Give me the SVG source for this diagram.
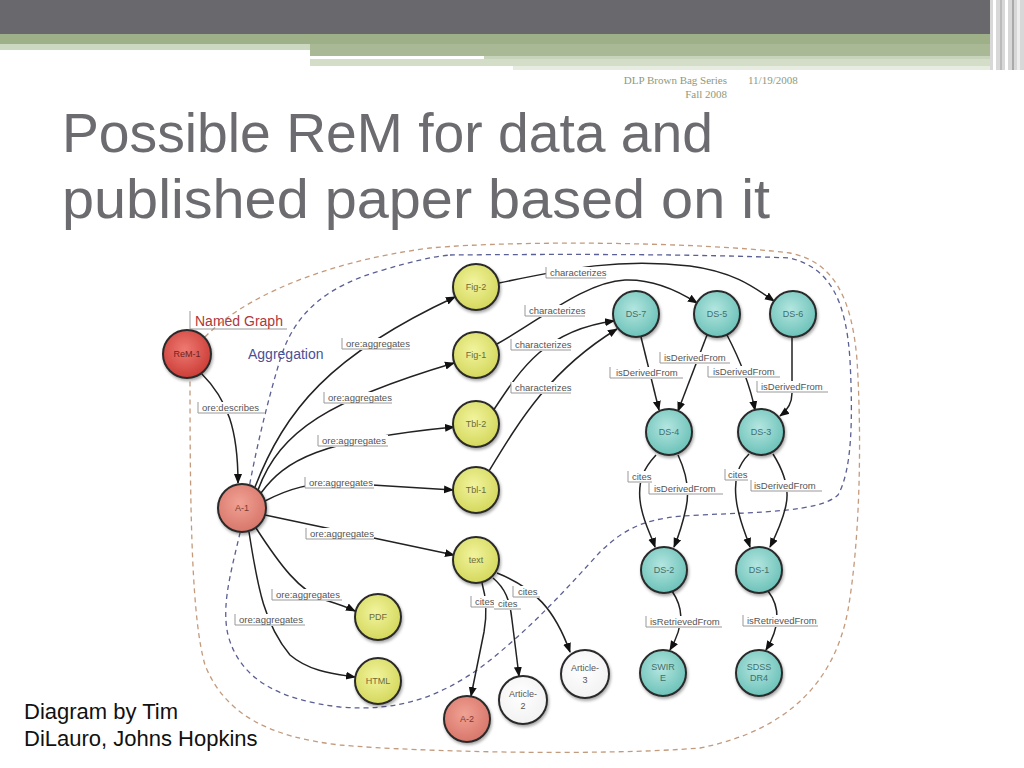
<svg xmlns="http://www.w3.org/2000/svg" width="1024" height="768" viewBox="0 0 1024 768">
<defs>
<style>
.edge{fill:none;stroke:#222;stroke-width:1.5;marker-end:url(#ah)}
.plain{fill:none;stroke:#222;stroke-width:1.5}
.lbl rect{fill:#fff}
.lbl path{fill:none;stroke:#999;stroke-width:1}
.lbl text{font-family:"Liberation Sans",Arial,sans-serif;font-size:9.5px;fill:#555}
.node circle{stroke:#2a2a2a;stroke-width:2;filter:url(#sh)}
.node text{font-family:"Liberation Sans",Arial,sans-serif;font-size:9px;text-anchor:middle}
.y circle{fill:url(#gy)} .y text{fill:#6b6b3a}
.t circle{fill:url(#gt)} .t text{fill:#3f6f6a}
.r circle{fill:url(#gr)} .r text{fill:#6e2220}
.s circle{fill:url(#gs)} .s text{fill:#7a3a32}
.w circle{fill:url(#gw)} .w text{fill:#555}
.ng{fill:none;stroke:#c49a7c;stroke-width:1.3;stroke-dasharray:5 4}
.ag{fill:none;stroke:#5a5f94;stroke-width:1.3;stroke-dasharray:5 4}
</style>
<marker id="ah" viewBox="0 0 10 10" refX="9" refY="5" markerWidth="10" markerHeight="10" markerUnits="userSpaceOnUse" orient="auto"><path d="M0,1 L10,5 L0,9 z" fill="#111"/></marker>
<radialGradient id="gy" cx="0.45" cy="0.4" r="0.6"><stop offset="0" stop-color="#f2f49e"/><stop offset="1" stop-color="#d4d85c"/></radialGradient>
<radialGradient id="gt" cx="0.45" cy="0.4" r="0.6"><stop offset="0" stop-color="#b4e6e0"/><stop offset="1" stop-color="#6cc2b9"/></radialGradient>
<radialGradient id="gr" cx="0.45" cy="0.4" r="0.6"><stop offset="0" stop-color="#ee7a72"/><stop offset="1" stop-color="#cc3e38"/></radialGradient>
<radialGradient id="gs" cx="0.45" cy="0.4" r="0.6"><stop offset="0" stop-color="#f0a294"/><stop offset="1" stop-color="#d8766a"/></radialGradient>
<radialGradient id="gw" cx="0.45" cy="0.4" r="0.6"><stop offset="0" stop-color="#ffffff"/><stop offset="1" stop-color="#f2f2f2"/></radialGradient>
<filter id="sh" x="-30%" y="-30%" width="160%" height="160%"><feDropShadow dx="1" dy="2" stdDeviation="1.5" flood-color="#000" flood-opacity="0.35"/></filter>
</defs>
<rect width="1024" height="768" fill="#fff"/>
<g id="header">
<rect x="0" y="0" width="1024" height="34" fill="#69686d"/>
<rect x="0" y="34" width="1024" height="10" fill="#9db087"/>
<rect x="0" y="44" width="310" height="6" fill="#cdd8c2"/>
<rect x="310" y="44" width="714" height="12" fill="#a9b996"/>
<rect x="310" y="56" width="174" height="3" fill="#fff"/>
<rect x="484" y="56" width="540" height="3" fill="#c8d3bb"/>
<rect x="310" y="59" width="714" height="7" fill="#d3ddc8"/>
<rect x="421" y="66" width="92" height="4" fill="#fff"/>
<rect x="513" y="66" width="511" height="4" fill="#e6ece0"/>
<rect x="990" y="0" width="34" height="70" fill="#d8d8d8"/>
<rect x="993" y="0" width="3" height="70" fill="#fff"/>
<rect x="1000" y="0" width="2" height="70" fill="#bbb"/>
<rect x="1005" y="0" width="3" height="70" fill="#fff"/>
<rect x="1012" y="0" width="2" height="70" fill="#aaa"/>
<rect x="1017" y="0" width="3" height="70" fill="#eee"/>
<text x="727" y="84" text-anchor="end" font-family="Liberation Serif,serif" font-size="11" fill="#8c9a7c">DLP Brown Bag Series</text>
<text x="727" y="98" text-anchor="end" font-family="Liberation Serif,serif" font-size="11" fill="#8c9a7c">Fall 2008</text>
<text x="748" y="84" font-family="Liberation Serif,serif" font-size="11" fill="#8c9a7c">11/19/2008</text>
<text x="62" y="152" font-family="Liberation Sans,Arial,sans-serif" font-size="55" fill="#6b6b70" textLength="651" lengthAdjust="spacingAndGlyphs">Possible ReM for data and</text>
<text x="62" y="218" font-family="Liberation Sans,Arial,sans-serif" font-size="55" fill="#6b6b70" textLength="708" lengthAdjust="spacingAndGlyphs">published paper based on it</text>
<text x="24" y="719" font-family="Liberation Sans,Arial,sans-serif" font-size="22" fill="#111">Diagram by Tim</text>
<text x="24" y="746" font-family="Liberation Sans,Arial,sans-serif" font-size="22" fill="#111">DiLauro, Johns Hopkins</text>
</g>
<g id="boundaries">
<path class="ng" d="M205 337 C 240 300, 320 262, 430 248 C 520 240, 700 242, 790 253 C 835 262, 852 300, 857 360 C 862 440, 860 540, 848 610 C 835 680, 790 730, 700 748 C 600 756, 420 752, 340 745 C 270 737, 225 715, 205 665 C 192 620, 190 520, 190 380"/>
<path class="ag" d="M450 255 C 560 254, 700 254, 790 258 C 830 268, 846 300, 850 360 C 853 420, 852 470, 838 495 C 820 512, 760 512, 700 515 C 650 517, 628 525, 600 552 C 570 585, 530 630, 480 668 C 440 696, 400 712, 340 707 C 280 700, 240 680, 228 635 C 220 600, 235 560, 245 510 C 252 470, 262 420, 280 360 C 295 310, 330 285, 383 270 C 410 262, 430 257, 450 255"/>
</g>
<g id="connectors">
<path class="edge" d="M201 373 C 228 400, 238 430, 238 483"/>
<path class="edge" d="M255 487 C 285 410, 330 355, 455 297"/>
<path class="edge" d="M258 490 C 280 430, 330 400, 454 363"/>
<path class="edge" d="M261 493 C 285 460, 320 440, 454 427"/>
<path class="edge" d="M265 501 C 290 488, 310 483, 340 483 L 453 490"/>
<path class="edge" d="M265 515 L 454 555"/>
<path class="edge" d="M256 528 C 280 565, 300 592, 325 600 C 338 604, 347 607, 355 611"/>
<path class="edge" d="M249 532 C 258 590, 265 625, 290 655 C 310 672, 335 674, 355 677"/>
<path class="edge" d="M499 283 C 570 268, 620 258, 690 266 C 735 272, 755 288, 774 301"/>
<path class="edge" d="M497 344 C 540 320, 585 282, 625 280 C 655 279, 680 292, 697 303"/>
<path class="edge" d="M493 411 C 520 370, 545 330, 614 321"/>
<path class="edge" d="M489 471 C 520 420, 550 370, 617 329"/>
<path class="edge" d="M641 337 L 659 410"/>
<path class="edge" d="M707 335 L 678 411"/>
<path class="edge" d="M727 335 C 740 360, 750 385, 755 410"/>
<path class="edge" d="M792 337 L 792 393 C 792 403, 788 410, 780 416"/>
<path class="edge" d="M656 455 C 644 468, 638 480, 640 500 C 642 520, 650 532, 655 547"/>
<path class="edge" d="M678 455 C 686 472, 690 490, 686 508 C 683 522, 679 535, 674 547"/>
<path class="edge" d="M749 454 C 738 465, 734 478, 736 498 C 738 518, 745 532, 750 547"/>
<path class="edge" d="M773 454 C 783 470, 790 487, 786 505 C 783 520, 777 533, 770 547"/>
<path class="edge" d="M672 591 C 682 606, 686 622, 670 650"/>
<path class="edge" d="M768 591 C 778 604, 783 622, 766 650"/>
<path class="edge" d="M482 583 C 487 600, 487 615, 484 632 L 471 696"/>
<path class="edge" d="M493 578 C 505 588, 510 600, 512 620 L 519 676"/>
<path class="edge" d="M497 573 C 535 588, 555 610, 570 652"/>
</g>
<g id="labels">
<g class="lbl"><path d="M190 311 V329 H287"/><text x="195" y="326" style="font-size:14px;fill:#b0373a">Named Graph</text></g>
<text x="248" y="359" font-family="Liberation Sans,Arial,sans-serif" font-size="14" fill="#4a4f96">Aggregation</text>
<g class="lbl"><rect x="198" y="402" width="67" height="12"/><path d="M198 402 V413 H265"/><text x="202" y="411">ore:describes</text></g>
<g class="lbl"><rect x="342" y="338" width="68" height="12"/><path d="M342 338 V349 H410"/><text x="346" y="347">ore:aggregates</text></g>
<g class="lbl"><rect x="324" y="392" width="68" height="12"/><path d="M324 392 V403 H392"/><text x="328" y="401">ore:aggregates</text></g>
<g class="lbl"><rect x="318" y="435" width="70" height="12"/><path d="M318 435 V446 H388"/><text x="322" y="444">ore:aggregates</text></g>
<g class="lbl"><rect x="305" y="477" width="69" height="12"/><path d="M305 477 V488 H374"/><text x="309" y="486">ore:aggregates</text></g>
<g class="lbl"><rect x="306" y="528" width="68" height="12"/><path d="M306 528 V539 H374"/><text x="310" y="537">ore:aggregates</text></g>
<g class="lbl"><rect x="272" y="589" width="70" height="12"/><path d="M272 589 V600 H342"/><text x="276" y="598">ore:aggregates</text></g>
<g class="lbl"><rect x="235" y="614" width="70" height="12"/><path d="M235 614 V625 H305"/><text x="239" y="623">ore:aggregates</text></g>
<g class="lbl"><rect x="546" y="267" width="60" height="12"/><path d="M546 267 V278 H606"/><text x="550" y="276">characterizes</text></g>
<g class="lbl"><rect x="525" y="305" width="60" height="12"/><path d="M525 305 V316 H585"/><text x="529" y="314">characterizes</text></g>
<g class="lbl"><rect x="511" y="339" width="60" height="12"/><path d="M511 339 V350 H571"/><text x="515" y="348">characterizes</text></g>
<g class="lbl"><rect x="511" y="382" width="60" height="12"/><path d="M511 382 V393 H571"/><text x="515" y="391">characterizes</text></g>
<g class="lbl"><rect x="660" y="352" width="70" height="12"/><path d="M660 352 V363 H730"/><text x="664" y="361">isDerivedFrom</text></g>
<g class="lbl"><rect x="610" y="367" width="73" height="12"/><path d="M610 367 V378 H683"/><text x="616" y="376">isDerivedFrom</text></g>
<g class="lbl"><rect x="708" y="366" width="72" height="12"/><path d="M708 366 V377 H780"/><text x="713" y="375">isDerivedFrom</text></g>
<g class="lbl"><rect x="757" y="381" width="71" height="12"/><path d="M757 381 V392 H828"/><text x="761" y="390">isDerivedFrom</text></g>
<g class="lbl"><rect x="649" y="483" width="74" height="12"/><path d="M649 483 V494 H723"/><text x="654" y="492">isDerivedFrom</text></g>
<g class="lbl"><rect x="751" y="480" width="71" height="12"/><path d="M751 480 V491 H822"/><text x="754" y="489">isDerivedFrom</text></g>
<g class="lbl"><rect x="628" y="471" width="24" height="12"/><path d="M628 471 V482 H652"/><text x="632" y="480">cites</text></g>
<g class="lbl"><rect x="725" y="469" width="23" height="12"/><path d="M725 469 V480 H748"/><text x="728" y="478">cites</text></g>
<g class="lbl"><rect x="471" y="596" width="24" height="12"/><path d="M471 596 V607 H495"/><text x="475" y="605">cites</text></g>
<g class="lbl"><rect x="494" y="600" width="27" height="10"/><path d="M494 609 H521"/><text x="498" y="607">cites</text></g>
<g class="lbl"><rect x="513" y="586" width="27" height="12"/><path d="M513 586 V597 H540"/><text x="518" y="595">cites</text></g>
<g class="lbl"><rect x="646" y="616" width="76" height="12"/><path d="M646 616 V627 H722"/><text x="650" y="625">isRetrievedFrom</text></g>
<g class="lbl"><rect x="743" y="615" width="75" height="12"/><path d="M743 615 V626 H818"/><text x="747" y="624">isRetrievedFrom</text></g>
</g>
<g id="nodes">
<g id="ReM-1" class="node r"><circle cx="187" cy="354" r="24"/><text x="187" y="357">ReM-1</text></g>
<g id="A-1" class="node s"><circle cx="242" cy="508" r="24"/><text x="242" y="511">A-1</text></g>
<g id="Fig-2" class="node y"><circle cx="476" cy="287" r="23"/><text x="476" y="290">Fig-2</text></g>
<g id="Fig-1" class="node y"><circle cx="476" cy="355" r="23"/><text x="476" y="358">Fig-1</text></g>
<g id="Tbl-2" class="node y"><circle cx="476" cy="424" r="23"/><text x="476" y="427">Tbl-2</text></g>
<g id="Tbl-1" class="node y"><circle cx="476" cy="490" r="23"/><text x="476" y="493">Tbl-1</text></g>
<g id="text" class="node y"><circle cx="476" cy="560" r="23"/><text x="476" y="563">text</text></g>
<g id="PDF" class="node y"><circle cx="378" cy="617" r="23"/><text x="378" y="620">PDF</text></g>
<g id="HTML" class="node y"><circle cx="378" cy="681" r="23"/><text x="378" y="684">HTML</text></g>
<g id="A-2" class="node s"><circle cx="467" cy="719" r="23"/><text x="467" y="722">A-2</text></g>
<g id="Article-2" class="node w"><circle cx="523" cy="700" r="24"/><text x="523" y="697">Article-</text><text x="523" y="709">2</text></g>
<g id="Article-3" class="node w"><circle cx="585" cy="674" r="24"/><text x="585" y="671">Article-</text><text x="585" y="683">3</text></g>
<g id="DS-7" class="node t"><circle cx="636" cy="314" r="23"/><text x="636" y="317">DS-7</text></g>
<g id="DS-5" class="node t"><circle cx="717" cy="314" r="23"/><text x="717" y="317">DS-5</text></g>
<g id="DS-6" class="node t"><circle cx="793" cy="314" r="23"/><text x="793" y="317">DS-6</text></g>
<g id="DS-4" class="node t"><circle cx="669" cy="432" r="23"/><text x="669" y="435">DS-4</text></g>
<g id="DS-3" class="node t"><circle cx="761" cy="432" r="23"/><text x="761" y="435">DS-3</text></g>
<g id="DS-2" class="node t"><circle cx="664" cy="570" r="23"/><text x="664" y="573">DS-2</text></g>
<g id="DS-1" class="node t"><circle cx="759" cy="570" r="23"/><text x="759" y="573">DS-1</text></g>
<g id="SWIRE" class="node t"><circle cx="663" cy="673" r="23"/><text x="663" y="670">SWIR</text><text x="663" y="681">E</text></g>
<g id="SDSS-DR4" class="node t"><circle cx="759" cy="673" r="23"/><text x="759" y="670">SDSS</text><text x="759" y="681">DR4</text></g>
</g>
</svg>
